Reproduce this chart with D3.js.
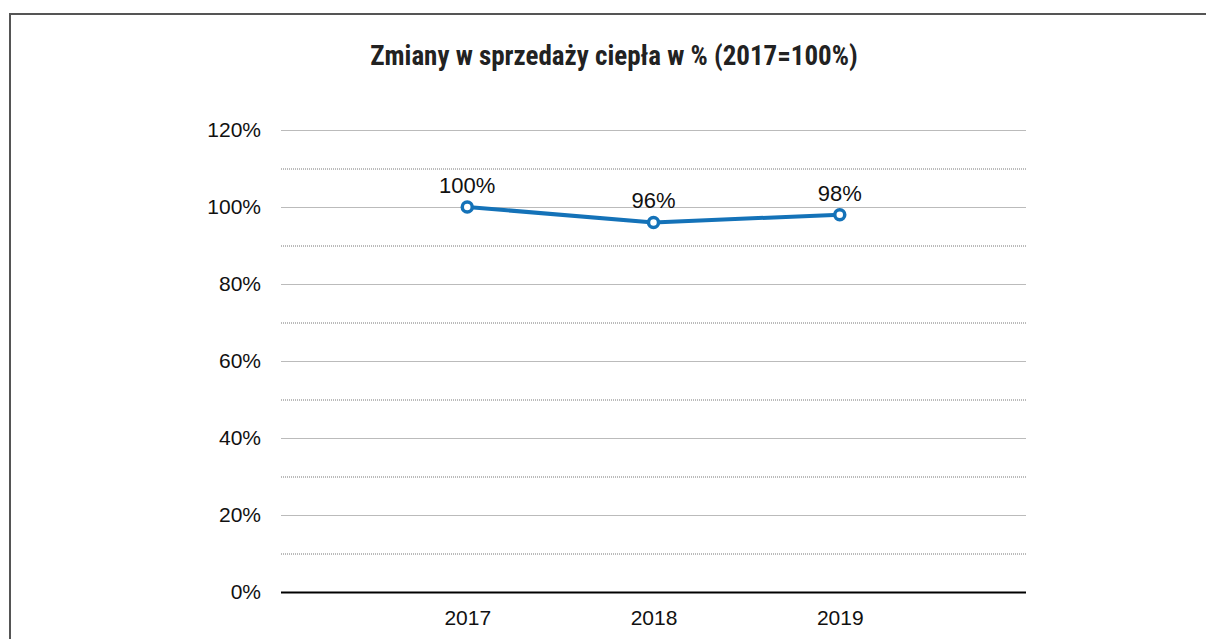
<!DOCTYPE html>
<html>
<head>
<meta charset="utf-8">
<script src="https://cdn.jsdelivr.net/npm/d3@7"></script>
<style>
  html, body { margin: 0; padding: 0; background: #fff; }
  svg { display: block; }
</style>
</head>
<body>
<div id="chart"></div>
<script>
// data
var years = [2017, 2018, 2019];
var values = [100, 96, 98];
var yTicks = [0, 20, 40, 60, 80, 100, 120];
var yMinorTicks = [10, 30, 50, 70, 90, 110];
var title = "Zmiany w sprzedaży ciepła w % (2017=100%)";

var width = 1206, height = 639;
var margin = { top: 130, right: 180, bottom: 47, left: 281 };

var svg = d3.select("#chart").append("svg")
    .attr("width", width)
    .attr("height", height);

// outer frame (runs off the right and bottom edges)
svg.append("rect")
    .attr("x", 10).attr("y", 14)
    .attr("width", width + 20).attr("height", height + 20)
    .attr("fill", "none")
    .attr("stroke", "#555")
    .attr("stroke-width", 2);

svg.append("text")
    .attr("x", 614).attr("y", 65)
    .attr("text-anchor", "middle")
    .attr("font-family", "'Liberation Sans Narrow', 'Roboto Condensed', 'DejaVu Sans Condensed', sans-serif")
    .attr("font-weight", "bold")
    .attr("font-size", 27)
    .attr("fill", "#222")
    .text(title);

var xScale = d3.scaleLinear()
    .domain([d3.min(years) - 1, d3.max(years) + 1])
    .range([margin.left, width - margin.right]);
var yScale = d3.scaleLinear()
    .domain([0, 120])
    .range([height - margin.bottom, margin.top]);

var grid = svg.append("g").attr("class", "gridLines");
grid.selectAll("line.minor").data(yMinorTicks).enter().append("line")
    .attr("class", "minor")
    .attr("x1", margin.left).attr("x2", width - margin.right)
    .attr("y1", function (d) { return yScale(d) + 0.5; })
    .attr("y2", function (d) { return yScale(d) + 0.5; })
    .attr("stroke", "#777")
    .attr("stroke-width", 1)
    .attr("stroke-dasharray", "1,1");
grid.selectAll("line.major").data(yTicks.filter(function (d) { return d > 0; })).enter().append("line")
    .attr("class", "major")
    .attr("x1", margin.left).attr("x2", width - margin.right)
    .attr("y1", function (d) { return yScale(d) + 0.5; })
    .attr("y2", function (d) { return yScale(d) + 0.5; })
    .attr("stroke", "#bbb")
    .attr("stroke-width", 1);

// y axis labels
var yAxis = d3.axisLeft(yScale).tickValues(yTicks).tickSize(0).tickPadding(20)
    .tickFormat(function (d) { return d + "%"; });
var yG = svg.append("g").attr("class", "leftAxis")
    .attr("transform", "translate(" + margin.left + ",0)")
    .call(yAxis);
yG.select(".domain").remove();
yG.selectAll("text")
    .attr("font-family", "'Liberation Sans', Arial, sans-serif")
    .attr("font-size", 21)
    .attr("fill", "#111");

// x axis
var xAxis = d3.axisBottom(xScale).tickValues(years).tickSize(0).tickPadding(18)
    .tickFormat(function (d) { return "" + d; });
var xG = svg.append("g").attr("class", "bottomAxis")
    .attr("transform", "translate(0," + (yScale(0) + 0.5) + ")")
    .call(xAxis);
xG.select(".domain")
    .attr("d", "M" + margin.left + ",0H" + (width - margin.right))
    .attr("stroke", "#000")
    .attr("stroke-width", 2);
xG.selectAll("text")
    .attr("font-family", "'Liberation Sans', Arial, sans-serif")
    .attr("font-size", 21)
    .attr("fill", "#111");

var pts = years.map(function (y, i) { return { year: y, value: values[i] }; });

var line = d3.line()
    .x(function (d) { return xScale(d.year); })
    .y(function (d) { return yScale(d.value); });

svg.append("path")
    .datum(pts)
    .attr("d", line)
    .attr("fill", "none")
    .attr("stroke", "#1472b8")
    .attr("stroke-width", 4)
    .attr("stroke-linejoin", "round");

svg.selectAll("circle.pt").data(pts).enter().append("circle")
    .attr("class", "pt")
    .attr("cx", function (d) { return xScale(d.year); })
    .attr("cy", function (d) { return yScale(d.value); })
    .attr("r", 5)
    .attr("fill", "#fff")
    .attr("stroke", "#1472b8")
    .attr("stroke-width", 3.5);

svg.selectAll("text.lbl").data(pts).enter().append("text")
    .attr("class", "lbl")
    .attr("x", function (d) { return xScale(d.year); })
    .attr("y", function (d) { return yScale(d.value) - 14; })
    .attr("text-anchor", "middle")
    .attr("font-family", "'Liberation Sans', Arial, sans-serif")
    .attr("font-size", 22)
    .attr("fill", "#111")
    .text(function (d) { return d.value + "%"; });
</script>
</body>
</html>
